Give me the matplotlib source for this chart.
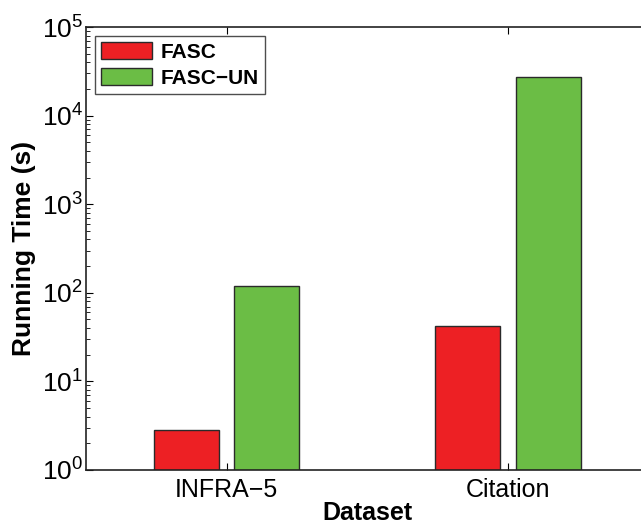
import numpy as np
import matplotlib
matplotlib.use("Agg")
import matplotlib.pyplot as plt

plt.rcParams['font.family'] = ['Liberation Sans', 'DejaVu Sans']
plt.rcParams['mathtext.fontset'] = 'custom'
plt.rcParams['mathtext.rm'] = 'Liberation Sans'

datasets = ["INFRA\u22125", "Citation"]
fasc = [2.83, 42.2]
fasc_un = [119, 27000]
series_names = ["FASC", "FASC\u2212UN"]

red = "#ED2024"
green = "#6BBD45"

fig = plt.figure(figsize=(6.41, 5.31), dpi=100)
ax = fig.add_axes([0.134, 0.115, 0.878, 0.834])

x = np.arange(1, len(datasets) + 1)
w = 0.231
ax.bar(x - 0.143, fasc, w, color=red, edgecolor="#2a2a2a", linewidth=1, label=series_names[0])
ax.bar(x + 0.143, fasc_un, w, color=green, edgecolor="#2a2a2a", linewidth=1, label=series_names[1])

ax.set_yscale("log")
ax.set_ylim(1, 1e5)
ax.set_xlim(0.5, 2.5)
ax.set_xticks(x)
ax.set_xticklabels(datasets, fontsize=18)
ax.tick_params(axis="y", labelsize=19, pad=2)
ax.tick_params(axis="x", pad=6)
ax.tick_params(which="both", direction="in", top=True, right=True)
ax.tick_params(which="major", length=5, width=0.8)
ax.tick_params(which="minor", length=3, width=0.6)
ax.tick_params(axis="x", which="minor", top=False, bottom=False)

for s in ax.spines.values():
    s.set_linewidth(1.2)
    s.set_color("#222222")

ax.set_xlabel("Dataset", fontsize=18, fontweight="bold", labelpad=-1)
ax.set_ylabel("Running Time (s)", fontsize=19, fontweight="bold", labelpad=4)

leg = ax.legend(loc="upper left", bbox_to_anchor=(0.016, 0.98),
                prop={"weight": "bold", "size": 15}, frameon=True, fancybox=False,
                edgecolor="#222222", handlelength=2.45, handleheight=0.87,
                borderpad=0.3, labelspacing=0.3, handletextpad=0.4, borderaxespad=0)
leg.get_frame().set_linewidth(1.0)

plt.savefig("out.png", dpi=100)
